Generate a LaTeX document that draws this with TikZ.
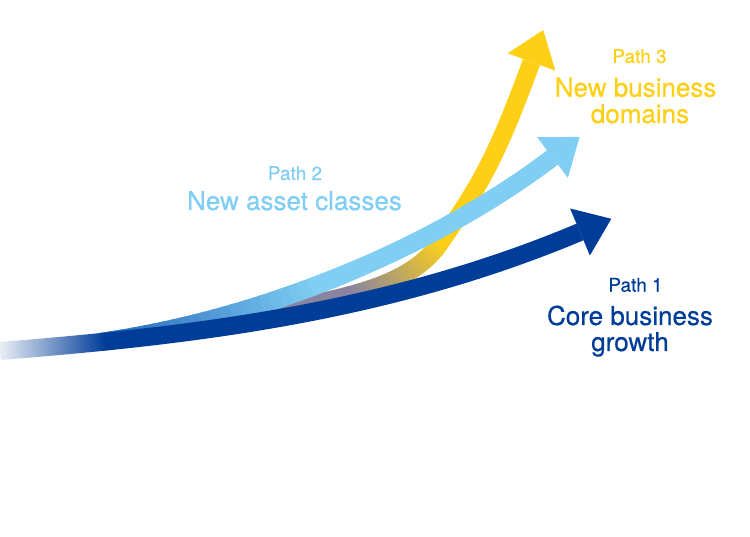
\documentclass[tikz,border=0pt]{standalone}
\usepackage{fontspec}
\setmainfont{TeX Gyre Heros}[FakeBold=0.6]
\usetikzlibrary{fadings}
\definecolor{ylw}{HTML}{FDD017}
\definecolor{lblue}{HTML}{80CEF3}
\definecolor{dblue}{HTML}{003D99}
\definecolor{mblue}{HTML}{3478C4}
\definecolor{ygray}{HTML}{8A84A0}
\tikzfading[name=fadeout right, left color=transparent!8, right color=transparent!100]
\begin{document}
\begin{tikzpicture}[x=1pt,y=-1pt,
  shaft/.style={line width=18pt, line cap=butt},
  headfill/.style={draw=none},
  lbl/.style={anchor=base, font=\fontsize{19}{22}\selectfont},
  big/.style={anchor=base, font=\fontsize{26}{30}\selectfont}]
\useasboundingbox (0,0) rectangle (750,537);
\fill[white] (0,0) rectangle (750,537);

% ---------- Path 3 (yellow) ----------
\coordinate (ys) at (230,320);
\coordinate (yc1) at (330,300);
\coordinate (yc2) at (405.8,292.2);
\coordinate (ym) at (440,243);
\coordinate (yc3) at (477.4,189.2);
\coordinate (yc4) at (494.8,162.5);
\coordinate (ye) at (531.5,62);
\draw[shaft, ylw] (ys) .. controls (yc1) and (yc2) .. (ym) .. controls (yc3) and (yc4) .. (ye);
\foreach \i in {0,...,39}{
  \pgfmathsetmacro\ta{\i/40}
  \pgfmathsetmacro\tb{min(1,(\i+1.6)/40)}
  \pgfmathsetmacro\mx{max(0,min(100,(\i/40-0.45)/0.55*100))}
  \path (ys) .. controls (yc1) and (yc2) .. (ym) coordinate[pos=\ta] (ya) coordinate[pos=\tb] (yb);
  \draw[shaft, color=ylw!\mx!ygray] (ya) -- (yb);
}
\coordinate (yt) at (543.2,30.1);
\coordinate (yl) at (507.6,53.3);
\coordinate (yr) at (555.4,70.7);
\fill[ylw, headfill] (yt) -- (yl) -- (yr) -- cycle;

% ---------- Path 2 (light blue) ----------
\coordinate (ls) at (100,342);
\coordinate (lc1) at (270,318);
\coordinate (lc2) at (440,243);
\coordinate (le) at (552.5,157.5);
\draw[shaft, lblue] (ls) .. controls (lc1) and (lc2) .. (le);
\foreach \i in {0,...,24}{
  \pgfmathsetmacro\ta{\i/50}
  \pgfmathsetmacro\tb{(\i+1.6)/50}
  \pgfmathsetmacro\mx{max(0,min(100,(\i/50-0.08)/0.34*100))}
  \path (ls) .. controls (lc1) and (lc2) .. (le) coordinate[pos=\ta] (la) coordinate[pos=\tb] (lb);
  \draw[shaft, color=lblue!\mx!mblue] (la) -- (lb);
}
\coordinate (lt) at (579.6,136.9);
\coordinate (ll) at (537.1,137.2);
\coordinate (lr) at (567.9,177.8);
\fill[lblue, headfill] (lt) -- (ll) -- (lr) -- cycle;

% ---------- Path 1 (dark blue) ----------
\coordinate (ds) at (0,351);
\coordinate (dc1) at (193,335.6);
\coordinate (dc2) at (387,313);
\coordinate (de) at (580,232);
\draw[shaft, dblue] (ds) .. controls (dc1) and (dc2) .. (de);
\coordinate (dt) at (611.3,218.8);
\coordinate (dl) at (570.1,208.5);
\coordinate (dr) at (589.9,255.5);
\fill[dblue, headfill] (dt) -- (dl) -- (dr) -- cycle;
\fill[white, path fading=fadeout right] (0,325) rectangle (105,375);

% ---------- Labels ----------
\node[lbl, text=ylw] (p3a) at (639.5,63) {Path 3};
\node[big, text=ylw] (p3b) at (635.6,96.7) {New business};
\node[big, text=ylw] (p3c) at (640,123) {domains};
\node[lbl, text=lblue] (p2a) at (295,180) {Path 2};
\node[big, text=lblue] (p2b) at (294.5,210) {New asset classes};
\node[lbl, text=dblue] (p1a) at (635.5,291.7) {Path 1};
\node[big, text=dblue] (p1b) at (630,325) {Core business};
\node[big, text=dblue] (p1c) at (630,351) {growth};
\end{tikzpicture}
\end{document}
